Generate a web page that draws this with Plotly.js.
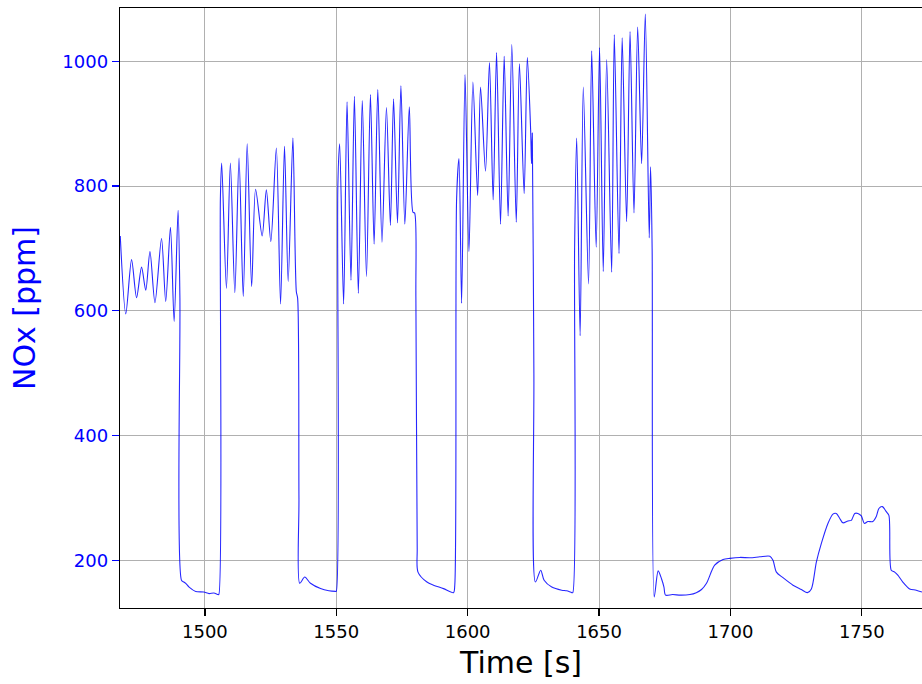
<!DOCTYPE html>
<html>
<head>
<meta charset="utf-8">
<script src="https://cdn.plot.ly/plotly-3.0.1.min.js"></script>
<style>html,body{margin:0;padding:0;background:#fff;}#chart{width:922px;height:684px;}</style>
</head>
<body>
<div id="chart"></div>
<script>
// Time [s]
const time = [
1467.8,1469.9,1472.1,1474.0,1475.9,1477.5,1479.1,1481.0,1483.5,1485.1,1486.9,1488.3,1489.8,1490.5,1491.1,1492.0,1492.7,1494.0,1496.5,1499.6,1501.6,1503.4,1505.0,1505.3,1505.9,
1506.4,1508.2,1509.7,1511.4,1513.0,1514.6,1516.1,1517.8,1519.3,1521.8,1523.4,1525.1,1527.2,1528.8,1530.3,1531.7,1533.5,1534.8,1535.3,1535.8,1536.1,1538.0,1540.2,1544.0,1547.2,1549.7,1550.0,1550.6,
1551.3,1552.8,1554.1,1555.6,1556.9,1558.4,1559.9,1561.5,1563.0,1564.4,1565.8,1567.4,1569.1,1570.6,1571.8,1573.3,1574.6,1576.1,1577.8,1579.2,1579.8,1580.3,1580.8,1581.1,1584.5,1587.0,1590.8,1594.6,1595.1,1595.8,
1596.7,1597.7,1599.0,1600.5,1602.0,1603.8,1604.9,1606.8,1608.3,1609.7,1611.0,1612.5,1613.9,1615.4,1616.8,1618.5,1619.7,1621.5,1622.7,1624.0,1624.3,1624.6,1625.2,1625.8,1627.8,1629.1,1632.0,1635.8,1637.7,1639.6,1640.0,1640.7,
1641.5,1642.8,1644.0,1646.0,1647.2,1648.9,1650.2,1651.6,1652.9,1654.8,1655.8,1657.6,1658.8,1660.5,1661.8,1663.3,1664.7,1666.2,1667.6,1669.1,1669.6,1670.2,1671.0,
1672.5,1673.8,1674.7,1675.3,1678.0,1681.0,1684.6,1687.0,1689.0,1690.9,1694.0,1697.2,1699.8,1703.6,1707.4,1711.2,1715.0,1716.2,1717.5,1720.0,1723.8,1727.0,1729.3,1730.8,1732.7,1734.6,1737.1,1739.0,1740.3,1741.6,1742.8,1744.7,1746.0,1747.3,1748.5,1749.8,1751.0,1752.3,1754.2,1755.5,1756.5,1757.8,1759.3,1760.3,1761.2,1762.5,1763.7,1765.6,1768.2,1770.7,1772.9
];
// NOx [ppm]
const nox = [
720,595,682,621,670,633,695,613,716,615,734,583,761,620,168,165,163,157,150,149,146.5,147.5,145,145,780,
837,636,837,629,845,623,868,639,795,720,794,711,861,611,864,647,877,631,620,300,163,173,163,154.5,151,150,150,800,
868,611,935,649,944,628,937,655,947,707,955,710,926,737,940,741,961,739,927,758,757,620,220,181,165,160,154.5,148,160,780,
844,612,979,695,967,785,959,824,998,778,1014,739,1008,752,1027,742,996,788,1006,886,836,885,500,165,184,168,157,152,151,148,148,700,
877,560,959,643,1017,702,1022,663,1003,662,1043,692,1038,743,1048,757,1055,836,1076,717,831,700,141,
183,170,157,144,145,144,145,148,153,163,192,201,203,204.5,204,205.5,206.5,200,181,172,160,153,148,154,197,227,259,274,275,267,260,263,264,275,275,271,259,262,262,270,283,286,278,272,184,181,176,165,154,152,149
];
const xTickVals = [1500,1550,1600,1650,1700,1750];
const xTickText = ['1500','1550','1600','1650','1700','1750'];
const yTickVals = [200,400,600,800,1000];
const yTickText = ['200','400','600','800','1000'];

const trace = {
  x: time, y: nox, type: 'scatter', mode: 'lines',
  line: {color: 'rgba(0,0,255,0.85)', width: 1.1, shape: 'spline', smoothing: 0.8},
  hoverinfo: 'x+y'
};

const layout = {
  width: 922, height: 684,
  margin: {l: 120, r: 0, t: 8, b: 76, pad: 0},
  paper_bgcolor: 'white', plot_bgcolor: 'white',
  showlegend: false,
  font: {family: 'DejaVu Sans, sans-serif', color: 'black'},
  xaxis: {
    range: [1467.7, 1772.9],
    tickmode: 'array', tickvals: xTickVals, ticktext: xTickText,
    showgrid: true, gridcolor: '#b0b0b0', gridwidth: 1,
    zeroline: false,
    showline: true, linecolor: 'black', linewidth: 1.3, mirror: true,
    ticks: 'outside', ticklen: 7, tickwidth: 1.3, tickcolor: 'black',
    tickfont: {size: 18, color: 'black'},
    automargin: false,
    title: {text: 'Time [s]', font: {size: 30, color: 'black'}, standoff: 11}
  },
  yaxis: {
    range: [123.4, 1085.6],
    tickmode: 'array', tickvals: yTickVals, ticktext: yTickText,
    showgrid: true, gridcolor: '#b0b0b0', gridwidth: 1,
    zeroline: false,
    showline: true, linecolor: 'black', linewidth: 1.3, mirror: false,
    ticks: 'outside', ticklen: 7, tickwidth: 1.3, tickcolor: 'blue',
    tickfont: {size: 18, color: 'blue'},
    automargin: false,
    title: {text: 'NOx [ppm]', font: {size: 30, color: 'blue'}, standoff: 17}
  }
};

Plotly.newPlot('chart', [trace], layout, {displayModeBar: false, staticPlot: true});
</script>
</body>
</html>
